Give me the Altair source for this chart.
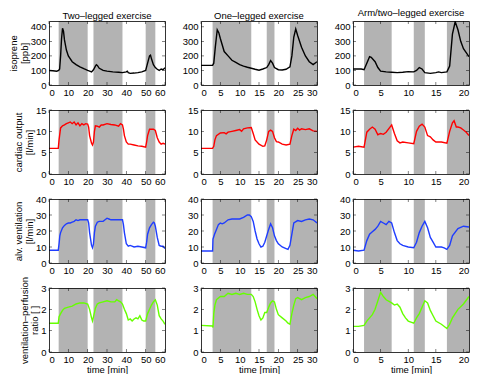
import altair as alt
import pandas as pd

# ---------------- data ----------------
col_titles = ["Two–legged exercise", "One–legged exercise", "Arm/two–legged exercise"]
x_max = [60, 30, 21]
x_ticks = [[0, 10, 20, 30, 40, 50, 60], [0, 5, 10, 15, 20, 25, 30], [0, 5, 10, 15, 20]]

shades_two = [(5, 20), (23, 38), (50, 55)]
shades_one = [(3, 13), (17, 19), (23, 30)]
shades_arm = [(2, 7), (11, 13), (17, 21)]

row_titles = [["isoprene", "[ppb]"], ["cardiac output", "[l/min]"],
              ["alv. ventilation", "[l/min]"], ["ventilation–perfusion", "ratio [ ]"]]
y_max = [440, 15, 40, 3]
y_ticks = [[0, 100, 200, 300, 400], [0, 5, 10, 15], [0, 10, 20, 30, 40], [0, 1, 2, 3]]
row_colors = ["#000000", "#ff0000", "#1f3dff", "#66ff00"]

iso_two = [(0, 100), (2, 98), (4, 95), (5, 100), (5.5, 110), (6, 200), (6.5, 320), (7, 390), (7.5, 370),
           (8, 310), (9, 240), (10, 200), (12, 160), (14, 140), (16, 125), (18, 112), (20, 100), (21, 95),
           (22, 90), (23, 105), (24, 130), (24.5, 140), (25, 135), (26, 115), (28, 100), (30, 95), (33, 90),
           (36, 88), (38, 85), (40, 90), (40.5, 95), (41, 85), (42, 80), (44, 82), (46, 85), (48, 90),
           (50, 100), (51, 150), (52, 200), (52.5, 205), (53, 180), (54, 140), (55, 120), (56, 108),
           (57, 100), (58, 110), (59, 105), (60, 118)]
iso_one = [(0, 135), (3, 135), (3.3, 150), (3.7, 260), (4.2, 380), (4.6, 360), (5, 320), (6, 230), (7, 200),
           (8, 170), (9, 155), (10, 140), (11, 130), (12, 122), (13, 115), (14, 108), (15, 102), (16, 110),
           (17, 120), (17.5, 140), (18, 168), (18.5, 150), (19, 120), (20, 105), (21, 103), (22, 108),
           (23, 125), (23.5, 200), (24, 330), (24.5, 385), (25, 340), (26, 260), (27, 200), (28, 160),
           (29, 140), (30, 160)]
iso_arm = [(0, 110), (1.5, 110), (2, 105), (2.5, 150), (3, 195), (3.3, 190), (4, 160), (4.5, 120), (5, 95),
           (6, 90), (7, 88), (8, 85), (9, 88), (10, 92), (11, 90), (11.5, 100), (12, 120), (12.5, 110),
           (13, 85), (14, 80), (15, 85), (15.5, 90), (16, 85), (17, 90), (17.5, 130), (18, 350), (18.5, 435),
           (19, 380), (19.5, 300), (20, 250), (21, 195)]

co_two = [(0, 6), (4.8, 6), (5.2, 8), (6, 10.8), (7, 11.3), (8, 11.5), (9, 11.8), (10, 12), (11, 12.2),
          (12, 11.8), (13, 12.2), (14, 11.5), (15, 12), (16, 11.3), (17, 11.8), (18, 11.5), (19, 11.8),
          (20, 11.7), (20.5, 11), (21, 9), (22, 7.2), (22.5, 6.8), (23, 7.5), (23.5, 10), (24, 11.3),
          (25, 11.2), (26, 11), (27, 11.5), (28, 11.5), (30, 11.8), (32, 11.6), (34, 11.5), (36, 11.2),
          (37, 11.8), (38, 11.5), (38.5, 10.5), (39, 9), (40, 7.5), (41, 7), (42, 7), (44, 6.8), (46, 6.6),
          (48, 6.5), (50, 6.3), (50.5, 7.5), (51, 9), (52, 10.5), (54, 10.5), (55, 10.2), (56, 8.5),
          (57, 7.5), (58, 7), (59, 7.2), (60, 7)]
co_one = [(0, 6), (3, 6), (3.3, 6.5), (3.6, 8), (4, 9), (5, 9.6), (6, 9.7), (6.5, 9.4), (7, 9.8), (8, 10),
          (9, 10.2), (10, 10.4), (10.5, 10), (11, 10.6), (12, 10.8), (13, 10.9), (13.5, 9.5), (14, 8),
          (15, 7), (16, 6.5), (16.5, 6.6), (17, 8), (17.5, 10), (18, 10.3), (18.5, 10), (19, 8.5),
          (19.5, 7.6), (20, 7.5), (21, 7), (22, 6.8), (23, 7), (23.5, 9), (24, 10.5), (24.5, 10.2),
          (25, 10.7), (25.5, 10.3), (26, 10.6), (27, 10.4), (28, 10.6), (29, 10.1), (30, 10)]
co_arm = [(0, 6.3), (1, 6.5), (2, 6.3), (2.5, 9.8), (3, 10.5), (3.5, 11), (4, 10.5), (4.5, 9.2), (5, 9.5),
          (5.5, 9.3), (6, 9.8), (7, 11.5), (7.5, 9.5), (8, 7.8), (8.5, 7.3), (9, 7.5), (10, 7.3), (11, 7.1),
          (11.5, 10), (12, 11.2), (12.5, 11.7), (13, 11), (13.5, 9), (14, 8.7), (14.5, 8), (15, 7.5),
          (16, 7.5), (17, 7.2), (17.5, 10), (18, 12), (18.3, 12.5), (18.7, 11), (19, 11), (19.5, 10.8),
          (20, 10.3), (20.5, 9.8), (21, 9)]

va_two = [(0, 8), (4.8, 8), (5.2, 12), (5.6, 17), (6, 19), (7, 22), (8, 23.5), (9, 24.5), (10, 25), (11, 25),
          (12, 25.5), (13, 26), (14, 27), (15, 26.5), (16, 27), (17, 27), (18, 27), (20, 27), (20.5, 25),
          (21, 19), (22, 11), (22.5, 9.5), (23, 12), (23.5, 19), (24, 23), (25, 25.5), (26, 26), (28, 26),
          (29, 27), (30, 28), (31, 27.5), (32, 27), (34, 27), (36, 27), (38, 27), (38.5, 24), (39, 19),
          (40, 12), (41, 10.5), (42, 11), (44, 10), (46, 10.5), (48, 10), (50, 9.5), (50.5, 13), (51, 18),
          (52, 22), (53, 24), (54, 25.5), (54.5, 25), (55, 23), (56, 16), (57, 11), (58, 10.5), (59, 10.5),
          (60, 9)]
va_one = [(0, 7.5), (3, 7.5), (3.1, 15), (3.5, 18), (4, 21), (4.5, 24), (5, 25), (5.5, 24.5), (6, 25),
          (7, 27), (8, 27.5), (9, 27.5), (10, 27.5), (11, 28.5), (12, 30), (12.5, 30), (13, 29), (13.5, 26),
          (14, 20), (14.5, 15), (15, 12), (15.5, 10), (16, 10.5), (16.5, 13), (17, 17), (17.5, 21),
          (18, 24.5), (18.5, 22), (19, 17), (19.5, 14), (20, 12), (21, 10), (22, 9), (22.5, 8.5), (23, 11),
          (23.5, 18), (24, 25), (25, 26.5), (26, 26), (27, 27), (28, 27.5), (29, 27), (30, 25)]
va_arm = [(0, 8), (1, 7.5), (2, 8), (2.5, 14), (3, 18), (3.5, 19.5), (4, 21), (4.5, 23), (5, 26), (5.5, 25),
          (6, 24), (6.5, 26), (7, 25), (7.5, 19), (8, 14), (8.5, 12), (9, 11), (10, 10), (11, 9.5),
          (11.5, 13), (12, 19), (12.5, 23), (13, 26), (13.5, 22), (14, 16), (14.5, 13), (15, 10), (16, 10),
          (16.5, 9.5), (17, 8.5), (17.5, 11), (18, 17), (19, 21.5), (20, 23), (21, 22.5)]

vq_two = [(0, 1.35), (4.8, 1.35), (5.2, 1.65), (6, 1.8), (7, 1.95), (8, 2.05), (10, 2.1), (12, 2.15),
          (14, 2.25), (16, 2.3), (18, 2.3), (20, 2.25), (21, 2.0), (22, 1.6), (22.5, 1.45), (23, 1.65),
          (24, 2.05), (25, 2.25), (26, 2.3), (28, 2.35), (30, 2.4), (32, 2.35), (34, 2.35), (35, 2.45),
          (36, 2.4), (37, 2.35), (38, 2.25), (39, 2.0), (40, 1.8), (41, 1.5), (42, 1.55), (43, 1.45),
          (44, 1.55), (45, 1.6), (46, 1.55), (47, 1.7), (48, 1.5), (49, 1.45), (50, 1.45), (51, 1.8),
          (52, 2.0), (53, 2.2), (54, 2.35), (55, 2.45), (56, 2.2), (57, 1.7), (58, 1.55), (59, 1.45), (60, 1.3)]
vq_one = [(0, 1.25), (3, 1.22), (3.1, 1.15), (3.3, 1.8), (3.6, 2.2), (4, 2.45), (5, 2.6), (6, 2.6),
          (7, 2.75), (8, 2.7), (9, 2.75), (10, 2.7), (11, 2.75), (12, 2.7), (13, 2.7), (13.5, 2.6),
          (14, 2.35), (14.5, 2.0), (15, 1.7), (15.5, 1.5), (16, 1.6), (16.5, 1.85), (17, 1.85), (17.5, 2.1),
          (18, 2.3), (18.5, 2.4), (19, 2.35), (19.5, 2.0), (20, 1.75), (21, 1.6), (22, 1.45), (22.5, 1.35),
          (23, 1.3), (23.5, 1.8), (24, 2.2), (24.5, 2.5), (25, 2.55), (26, 2.45), (27, 2.55), (28, 2.6),
          (29, 2.7), (30, 2.5)]
vq_arm = [(0, 1.2), (1, 1.2), (2, 1.25), (2.5, 1.45), (3, 1.6), (3.5, 1.75), (4, 2.0), (4.5, 2.4), (5, 2.8),
          (5.5, 2.6), (6, 2.45), (7, 2.3), (7.5, 2.2), (8, 2.25), (8.5, 2.1), (9, 1.8), (9.5, 1.6),
          (10, 1.45), (11, 1.35), (11.5, 1.6), (12, 1.8), (12.5, 2.1), (13, 2.4), (13.5, 2.3), (14, 1.95),
          (14.5, 1.7), (15, 1.45), (16, 1.3), (17, 1.1), (17.5, 1.3), (18, 1.6), (19, 2.0), (20, 2.25),
          (21, 2.6)]

series = [[iso_two, iso_one, iso_arm],
          [co_two, co_one, co_arm],
          [va_two, va_one, va_arm],
          [vq_two, vq_one, vq_arm]]
shades = [shades_two, shades_one, shades_arm]

FONT = "Liberation Sans"
W, H = 116, 64
TK = 3  # inward tick length


def panel(r, c):
    df = pd.DataFrame(series[r][c], columns=["t", "v"])
    sh = pd.DataFrame(shades[c], columns=["start", "end"])
    xt = pd.DataFrame({"xt": x_ticks[c]})
    yt = pd.DataFrame({"yt": y_ticks[r]})
    xs = alt.Scale(domain=[0, x_max[c]], nice=False, zero=False)
    ys = alt.Scale(domain=[0, y_max[r]], nice=False, zero=False)

    x_axis = alt.Axis(values=x_ticks[c], title="time [min]" if r == 3 else None,
                      orient="bottom", labelPadding=2, titlePadding=1, zindex=1,
                      minExtent=0)
    if c == 0:
        y_axis = alt.Axis(values=y_ticks[r], title=row_titles[r], orient="left",
                          labelPadding=3, titlePadding=1, titleLineHeight=10.5, zindex=1,
                          minExtent=0)
    else:
        y_axis = alt.Axis(values=y_ticks[r], title=None, orient="left", labelPadding=3,
                          zindex=1, minExtent=0)

    rect = alt.Chart(sh).mark_rect(color="#b3b3b3").encode(
        x=alt.X("start:Q", scale=xs, axis=None),
        x2="end:Q",
    )
    line = alt.Chart(df).mark_line(color=row_colors[r], strokeWidth=1.4, clip=True).encode(
        x=alt.X("t:Q", scale=xs, axis=x_axis),
        y=alt.Y("v:Q", scale=ys, axis=y_axis),
    )
    frame = alt.Chart(df).mark_point(opacity=0).encode(
        x=alt.X("t:Q", scale=xs, axis=alt.Axis(orient="top", labels=False, ticks=False,
                                               title=None, zindex=1, minExtent=0, maxExtent=0)),
        y=alt.Y("v:Q", scale=ys, axis=alt.Axis(orient="right", labels=False, ticks=False,
                                               title=None, zindex=1, minExtent=0, maxExtent=0)),
    )
    tick_style = dict(color="#000000", thickness=0.7, size=TK)
    xt_bottom = alt.Chart(xt).mark_tick(orient="vertical", **tick_style).encode(
        x=alt.X("xt:Q", scale=xs, axis=None), y=alt.value(H - TK / 2))
    xt_top = alt.Chart(xt).mark_tick(orient="vertical", **tick_style).encode(
        x=alt.X("xt:Q", scale=xs, axis=None), y=alt.value(TK / 2))
    yt_left = alt.Chart(yt).mark_tick(orient="horizontal", **tick_style).encode(
        y=alt.Y("yt:Q", scale=ys, axis=None), x=alt.value(TK / 2))
    yt_right = alt.Chart(yt).mark_tick(orient="horizontal", **tick_style).encode(
        y=alt.Y("yt:Q", scale=ys, axis=None), x=alt.value(W - TK / 2))

    ch = alt.layer(rect, line, xt_bottom, xt_top, yt_left, yt_right, frame).resolve_axis(
        x="independent", y="independent").properties(width=W, height=H)
    if r == 0:
        ch = ch.properties(title=alt.TitleParams(col_titles[c], fontSize=9.5, font=FONT,
                                                 fontWeight="normal", color="#000000", offset=1))
    return ch


charts = [panel(r, c) for r in range(4) for c in range(3)]

chart = alt.concat(*charts, columns=3, bounds="flush",
                   spacing={"row": 25, "column": 36}).properties(
    padding={"left": 0, "top": 0, "right": 0, "bottom": 0}
).configure_axis(
    labelFont=FONT, labelFontSize=9.5, labelColor="#000000",
    titleFont=FONT, titleFontSize=9.5, titleColor="#000000", titleFontWeight="normal",
    grid=False, ticks=False, domainColor="#000000", domainWidth=0.8, minExtent=0,
).configure_view(stroke=None)

chart.save("out.html", embed_options={"renderer": "svg", "actions": False})
